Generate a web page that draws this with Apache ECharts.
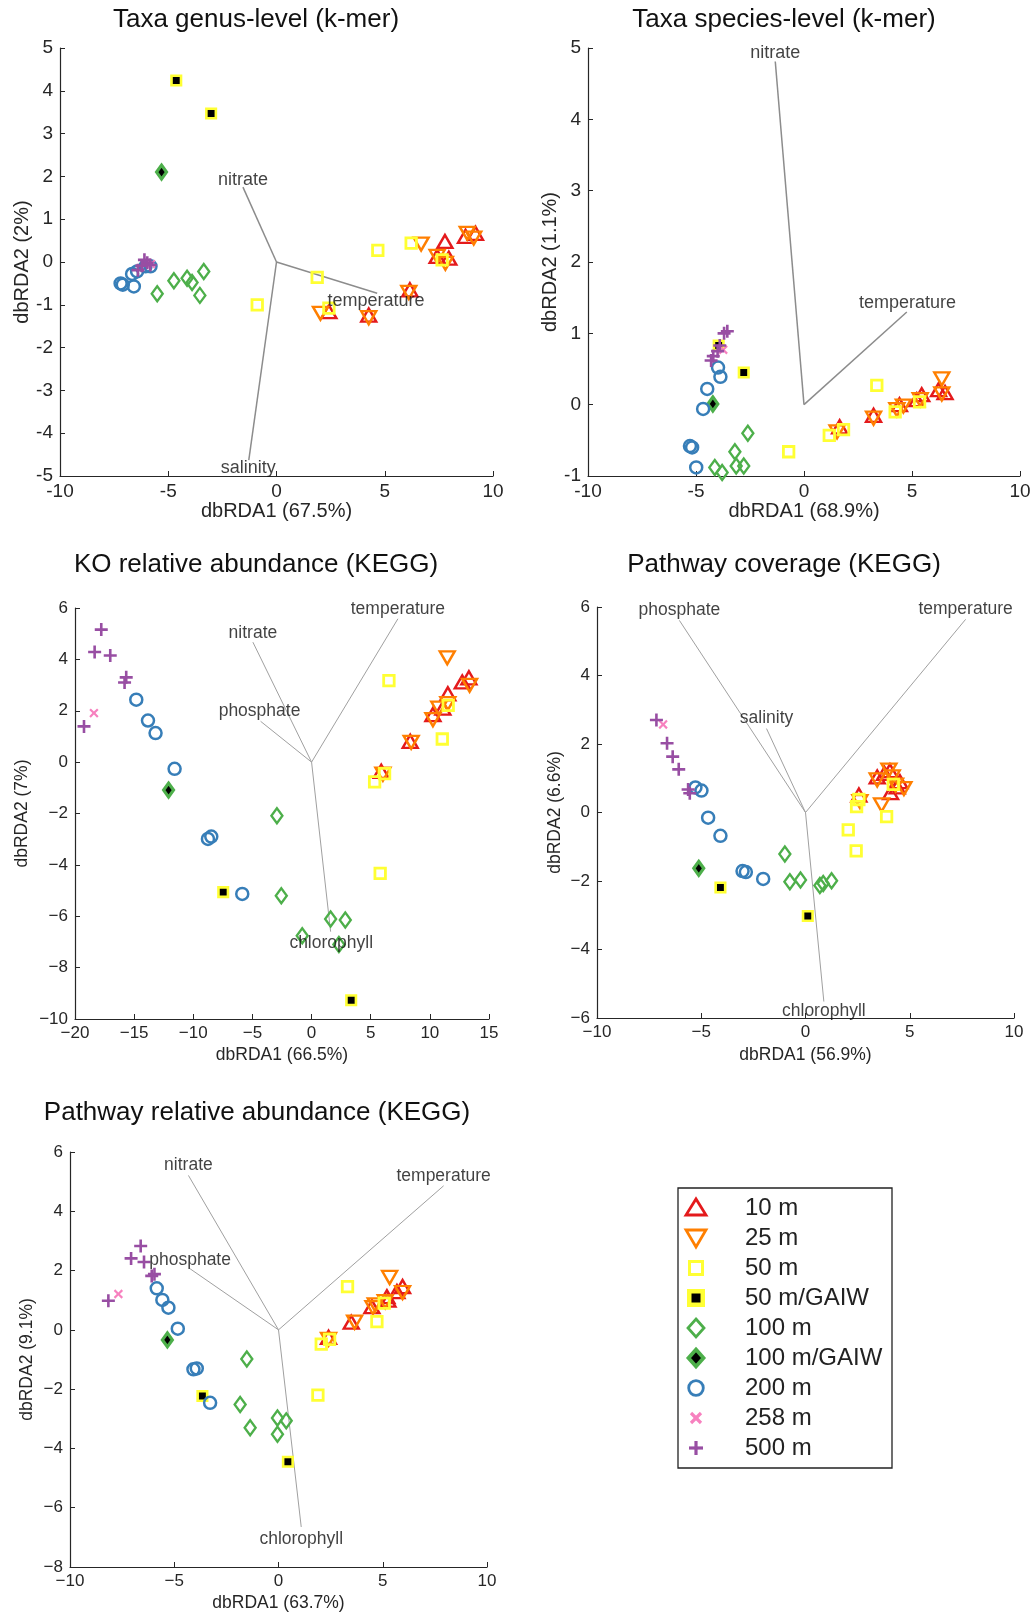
<!DOCTYPE html>
<html><head><meta charset="utf-8">
<script src="https://cdn.jsdelivr.net/npm/echarts@6/dist/echarts.min.js"></script>
<style>html,body{margin:0;padding:0;background:#fff}#c{width:1034px;height:1618px}</style>
</head><body><div id="c"></div><script>
// ---------------- DATA ----------------
const GROUPS = ['10 m','25 m','50 m','50 m/GAIW','100 m','100 m/GAIW','200 m','258 m','500 m'];
const TITLES = ['Taxa genus-level (k-mer)','Taxa species-level (k-mer)','KO relative abundance (KEGG)','Pathway coverage (KEGG)','Pathway relative abundance (KEGG)'];
const X_NAMES = ['dbRDA1 (67.5%)','dbRDA1 (68.9%)','dbRDA1 (66.5%)','dbRDA1 (56.9%)','dbRDA1 (63.7%)'];
const Y_NAMES = ['dbRDA2 (2%)','dbRDA2 (1.1%)','dbRDA2 (7%)','dbRDA2 (6.6%)','dbRDA2 (9.1%)'];
const X_RANGE = [[-10,10,5],[-10,10,5],[-20,15,5],[-10,10,5],[-10,10,5]];
const Y_RANGE = [[-5,5,1],[-1,5,1],[-10,6,2],[-6,6,2],[-8,6,2]];

// Taxa genus-level
const genus_10m = [[7.78,0.48],[2.42,-1.16],[4.26,-1.24],[6.16,-0.65],[7.96,0.09],[8.73,0.6],[9.19,0.67],[7.42,0.13]];
const genus_25m = [[6.68,0.42],[2.03,-1.2],[4.26,-1.3],[6.11,-0.71],[7.42,0.13],[7.8,-0.03],[8.81,0.67],[9.11,0.56]];
const genus_50m = [[-0.89,-1.0],[1.88,-0.36],[4.68,0.27],[6.22,0.44],[2.42,-1.08],[7.65,0.05]];
const genus_50mG = [[-4.63,4.24],[-3.02,3.47]];
const genus_100m = [[-5.51,-0.74],[-4.74,-0.44],[-4.13,-0.38],[-3.9,-0.48],[-3.36,-0.22],[-3.54,-0.78]];
const genus_100mG = [[-5.31,2.1]];
const genus_200m = [[-7.2,-0.5],[-7.1,-0.53],[-6.59,-0.57],[-6.67,-0.28],[-6.44,-0.22],[-6.05,-0.1],[-5.82,-0.1]];
const genus_258m = [[-5.8,-0.05]];
const genus_500m = [[-6.4,-0.19],[-6.22,-0.09],[-5.97,-0.02],[-5.83,-0.07],[-6.1,0.05]];
const genus_vecNames = ['nitrate','temperature','salinity'];
const genus_vecEnds = [[-1.55,1.75],[4.65,-0.73],[-1.28,-4.63]];
const genus_vecText = [[-1.55,1.92],[4.6,-0.91],[-1.31,-4.82]];

// Taxa species-level
const species_10m = [[1.65,-0.31],[3.22,-0.15],[4.42,0.0],[5.45,0.14],[6.23,0.21],[6.53,0.17],[5.22,0.07]];
const species_25m = [[1.53,-0.38],[3.22,-0.19],[4.6,-0.02],[4.3,-0.07],[6.38,0.36],[6.38,0.15],[5.38,0.07]];
const species_50m = [[-0.71,-0.66],[1.17,-0.43],[1.83,-0.35],[3.37,0.27],[4.22,-0.1],[5.35,0.04]];
const species_50mG = [[-2.79,0.45],[-3.95,0.83]];
const species_100m = [[-2.6,-0.4],[-3.2,-0.66],[-4.13,-0.88],[-3.79,-0.95],[-3.14,-0.86],[-2.79,-0.86]];
const species_100mG = [[-4.22,0.01]];
const species_200m = [[-3.98,0.52],[-3.87,0.39],[-4.48,0.22],[-4.67,-0.06],[-5.28,-0.58],[-5.18,-0.6],[-4.99,-0.88]];
const species_258m = [[-3.74,0.77]];
const species_500m = [[-3.55,1.03],[-3.7,1.0],[-3.9,0.83],[-4.0,0.75],[-4.2,0.68],[-4.3,0.62]];
const species_vecNames = ['nitrate','temperature'];
const species_vecEnds = [[-1.33,4.81],[4.76,1.3]];
const species_vecText = [[-1.33,4.93],[4.79,1.43]];

// KO relative abundance
const ko_10m = [[12.74,3.12],[13.3,3.28],[11.52,2.66],[10.26,1.85],[8.34,0.81],[5.89,-0.36],[11.1,2.1]];
const ko_25m = [[11.47,4.06],[13.36,2.99],[10.26,1.65],[10.76,2.1],[8.42,0.77],[6.03,-0.47],[11.52,2.28]];
const ko_50m = [[6.54,3.17],[5.33,-0.77],[6.17,-0.45],[11.05,0.9],[5.8,-4.33],[11.55,2.21]];
const ko_50mG = [[-7.47,-5.06],[3.35,-9.27]];
const ko_100m = [[-2.93,-2.09],[-2.56,-5.2],[-0.79,-6.76],[1.61,-6.11],[2.85,-6.15],[2.31,-7.1]];
const ko_100mG = [[-12.09,-1.09]];
const ko_200m = [[-14.82,2.43],[-13.83,1.62],[-13.19,1.13],[-11.58,-0.26],[-8.76,-2.99],[-8.48,-2.9],[-5.86,-5.13]];
const ko_258m = [[-18.4,1.91]];
const ko_500m = [[-17.78,5.16],[-18.34,4.29],[-17.02,4.15],[-15.67,3.3],[-15.81,3.1],[-19.24,1.39]];
const ko_vecNames = ['nitrate','temperature','phosphate','chlorophyll'];
const ko_vecEnds = [[-4.96,4.67],[7.3,5.58],[-4.31,1.59],[1.61,-6.6]];
const ko_vecText = [[-4.96,5.03],[7.3,5.97],[-4.4,1.98],[1.66,-7.06]];

// Pathway coverage
const pcov_10m = [[2.56,0.51],[3.44,1.04],[4.08,0.58],[4.53,0.9],[4.05,1.22],[4.4,0.75],[3.79,1.14]];
const pcov_25m = [[2.61,0.32],[3.65,0.22],[3.44,0.95],[4.0,1.24],[4.72,0.7],[4.32,0.8],[4.16,1.04]];
const pcov_50m = [[2.56,0.38],[2.45,0.17],[2.05,-0.51],[2.43,-1.12],[3.89,-0.12],[4.21,0.82]];
const pcov_50mG = [[-4.08,-2.19],[0.11,-3.02]];
const pcov_100m = [[-0.99,-1.21],[-0.75,-2.02],[-0.24,-1.97],[0.69,-2.13],[0.85,-2.07],[1.25,-1.99]];
const pcov_100mG = [[-5.12,-1.63]];
const pcov_200m = [[-5.28,0.73],[-4.99,0.64],[-4.67,-0.15],[-4.08,-0.68],[-3.02,-1.71],[-2.86,-1.74],[-2.03,-1.94]];
const pcov_258m = [[-6.83,2.57]];
const pcov_500m = [[-7.15,2.7],[-6.64,2.02],[-6.37,1.63],[-6.08,1.26],[-5.63,0.67],[-5.55,0.56]];
const pcov_vecNames = ['phosphate','temperature','salinity','chlorophyll'];
const pcov_vecEnds = [[-6.05,5.61],[7.68,5.64],[-1.87,2.45],[0.88,-5.52]];
const pcov_vecText = [[-6.05,5.9],[7.68,5.95],[-1.87,2.75],[0.88,-5.81]];

// Pathway relative abundance
const prel_10m = [[5.95,1.46],[5.68,1.29],[5.2,1.12],[4.48,0.78],[3.49,0.26],[2.4,-0.25],[5.25,1.0]];
const prel_25m = [[5.33,1.77],[5.95,1.26],[4.53,0.75],[3.65,0.26],[2.4,-0.32],[4.64,0.84],[5.12,0.95]];
const prel_50m = [[3.31,1.46],[4.72,0.28],[5.07,0.9],[2.05,-0.48],[2.45,-0.32],[1.89,-2.2]];
const prel_50mG = [[-3.65,-2.23],[0.45,-4.45]];
const prel_100m = [[-1.52,-0.98],[-1.84,-2.52],[-1.36,-3.3],[-0.05,-2.97],[0.37,-3.07],[-0.05,-3.52]];
const prel_100mG = [[-5.33,-0.34]];
const prel_200m = [[-5.84,1.4],[-5.57,1.01],[-5.28,0.75],[-4.83,0.04],[-4.08,-1.33],[-3.92,-1.3],[-3.28,-2.46]];
const prel_258m = [[-7.68,1.21]];
const prel_500m = [[-6.61,2.83],[-7.07,2.41],[-6.45,2.29],[-6.08,1.82],[-5.95,1.88],[-8.16,0.98]];
const prel_vecNames = ['nitrate','temperature','phosphate','chlorophyll'];
const prel_vecEnds = [[-4.32,5.21],[7.92,4.86],[-4.24,2.06],[1.09,-6.65]];
const prel_vecText = [[-4.32,5.54],[7.92,5.18],[-4.24,2.36],[1.09,-7.06]];

// ---------------- ASSEMBLY ----------------
const POINTS = [
  [genus_10m,genus_25m,genus_50m,genus_50mG,genus_100m,genus_100mG,genus_200m,genus_258m,genus_500m],
  [species_10m,species_25m,species_50m,species_50mG,species_100m,species_100mG,species_200m,species_258m,species_500m],
  [ko_10m,ko_25m,ko_50m,ko_50mG,ko_100m,ko_100mG,ko_200m,ko_258m,ko_500m],
  [pcov_10m,pcov_25m,pcov_50m,pcov_50mG,pcov_100m,pcov_100mG,pcov_200m,pcov_258m,pcov_500m],
  [prel_10m,prel_25m,prel_50m,prel_50mG,prel_100m,prel_100mG,prel_200m,prel_258m,prel_500m]
];
const VECTORS = [
  [genus_vecNames,genus_vecEnds,genus_vecText],
  [species_vecNames,species_vecEnds,species_vecText],
  [ko_vecNames,ko_vecEnds,ko_vecText],
  [pcov_vecNames,pcov_vecEnds,pcov_vecText],
  [prel_vecNames,prel_vecEnds,prel_vecText]
];

// layout / style
const FONT = '"Liberation Sans", Arial, Helvetica, sans-serif';
const INK = '#262626';
const LAYOUT = [
  {grid:{left:60,top:48,width:433,height:428}, tick:19, name:20, ann:18, xGap:22, yGap:28, uminus:false, vecColor:'#8c8c8c', vecW:1.5, tx:256, ty:20},
  {grid:{left:588,top:48,width:432,height:428}, tick:19, name:20, ann:18, xGap:22, yGap:28, uminus:false, vecColor:'#8c8c8c', vecW:1.5, tx:784, ty:20},
  {grid:{left:75,top:608,width:414,height:411}, tick:17, name:17.5, ann:17.5, xGap:27, yGap:44, uminus:true, vecColor:'#a0a0a0', vecW:1, tx:256, ty:565},
  {grid:{left:597,top:607,width:417,height:411}, tick:17, name:17.5, ann:17.5, xGap:28, yGap:33, uminus:true, vecColor:'#a0a0a0', vecW:1, tx:784, ty:565},
  {grid:{left:70,top:1152,width:417,height:415}, tick:17, name:17.5, ann:17.5, xGap:27, yGap:34, uminus:true, vecColor:'#a0a0a0', vecW:1, tx:257, ty:1113}
];
const PLUS = 'path://M4,0H6V4H10V6H6V10H4V6H0V4H4Z';
const T = 'rgba(0,0,0,0)';
const SYM = [
  {symbol:'triangle', size:[15,13], rotate:0, color:T, border:'#e41a1c', bw:2.4},
  {symbol:'triangle', size:[15,13], rotate:180, color:T, border:'#ff7f00', bw:2.4},
  {symbol:'rect', size:10.5, rotate:0, color:T, border:'#ffff33', bw:2.8},
  {symbol:'rect', size:9.5, rotate:0, color:'#000', border:'#ffff33', bw:2.6},
  {symbol:'diamond', size:[11,15], rotate:0, color:T, border:'#4daf4a', bw:2.4},
  {symbol:'diamond', size:[10,14], rotate:0, color:'#000', border:'#4daf4a', bw:3.2},
  {symbol:'circle', size:12, rotate:0, color:T, border:'#377eb8', bw:2.5},
  {symbol:PLUS, size:11, rotate:45, color:'#f781bf', border:T, bw:0},
  {symbol:PLUS, size:13, rotate:0, color:'#984ea3', border:T, bw:0}
];

const grids=[], xAxes=[], yAxes=[], series=[], graphics=[];
LAYOUT.forEach((L,i)=>{
  grids.push(Object.assign({containLabel:false}, L.grid));
  const fmt = v => L.uminus ? String(v).replace('-', '\u2212') : String(v);
  const mkAxis = (range, name, gap, isX) => ({
    gridIndex:i, type:'value', min:range[0], max:range[1], interval:range[2],
    name:name, nameLocation:'middle', nameGap:gap,
    nameTextStyle:{fontSize:L.name, color:INK, fontFamily:FONT},
    axisLine:{show:true, onZero:false, lineStyle:{color:INK, width:1.2}},
    axisTick:{show:true, inside:true, length:5, lineStyle:{color:INK, width:1}},
    axisLabel:{show:true, fontSize:L.tick, color:INK, fontFamily:FONT, margin:isX?6:7, formatter:fmt, showMinLabel:true, showMaxLabel:true},
    splitLine:{show:false}
  });
  xAxes.push(mkAxis(X_RANGE[i], X_NAMES[i], L.xGap, true));
  yAxes.push(mkAxis(Y_RANGE[i], Y_NAMES[i], L.yGap, false));

  const [vn, ve, vt] = VECTORS[i];
  ve.forEach((e,k)=>{
    series.push({type:'line', xAxisIndex:i, yAxisIndex:i, data:[[0,0],e], showSymbol:false, symbol:'none',
      lineStyle:{color:L.vecColor, width:L.vecW}, silent:true, z:1, animation:false});
  });
  POINTS[i].forEach((pts,g)=>{
    const s = SYM[g];
    series.push({type:'scatter', name:GROUPS[g], xAxisIndex:i, yAxisIndex:i, data:pts,
      symbol:s.symbol, symbolSize:s.size, symbolRotate:s.rotate, symbolKeepAspect:true,
      itemStyle:{color:s.color, borderColor:s.border, borderWidth:s.bw, opacity:1},
      emphasis:{disabled:true}, silent:true, z:2, animation:false, clip:false});
  });
  series.push({type:'scatter', xAxisIndex:i, yAxisIndex:i,
    data: vn.map((n,k)=>({name:n, value:vt[k]})),
    symbolSize:1, itemStyle:{color:T},
    label:{show:true, position:'inside', formatter:'{b}', color:'#111', fontSize:L.ann, fontFamily:FONT},
    emphasis:{disabled:true}, silent:true, z:3, animation:false, clip:false});
  graphics.push({type:'text', x:L.tx, y:L.ty, z:10,
    style:{text:TITLES[i], fill:'#111', font:'26px '+FONT, textAlign:'center', textVerticalAlign:'middle', align:'center', verticalAlign:'middle'}});
});

// legend (drawn as graphic)
const LEG = {x:678, y:1188, w:214, h:280, row0:1208, step:30, iconX:696, textX:745};
graphics.push({type:'rect', shape:{x:LEG.x, y:LEG.y, width:LEG.w, height:LEG.h}, style:{fill:'none', stroke:'#222', lineWidth:1.3}, z:5});
function legendIcon(g){
  const s = SYM[g];
  const st = (fill, lw) => ({fill:fill, stroke:s.border, lineWidth:lw});
  switch(g){
    case 0: return [{type:'polygon', shape:{points:[[-10,7],[10,7],[0,-9]]}, style:st('none',2.8)}];
    case 1: return [{type:'polygon', shape:{points:[[-10,-8],[10,-8],[0,9]]}, style:st('none',2.8)}];
    case 2: return [{type:'rect', shape:{x:-6.5,y:-6.5,width:13,height:13}, style:st('none',3)}];
    case 3: return [{type:'rect', shape:{x:-6.75,y:-6.75,width:13.5,height:13.5}, style:st('#000',4.5)}];
    case 4: return [{type:'polygon', shape:{points:[[0,-9],[8,0],[0,9],[-8,0]]}, style:st('none',2.8)}];
    case 5: return [{type:'polygon', shape:{points:[[0,-8.5],[7.5,0],[0,8.5],[-7.5,0]]}, style:st('#000',3.8)}];
    case 6: return [{type:'circle', shape:{cx:0,cy:0,r:7.3}, style:st('none',2.8)}];
    case 7: return [
      {type:'line', shape:{x1:-5,y1:-5,x2:5,y2:5}, style:{stroke:s.color, lineWidth:3.2}},
      {type:'line', shape:{x1:-5,y1:5,x2:5,y2:-5}, style:{stroke:s.color, lineWidth:3.2}}];
    default: return [
      {type:'line', shape:{x1:-7,y1:0,x2:7,y2:0}, style:{stroke:s.color, lineWidth:3.2}},
      {type:'line', shape:{x1:0,y1:-7,x2:0,y2:7}, style:{stroke:s.color, lineWidth:3.2}}];
  }
}
GROUPS.forEach((name,g)=>{
  const y = LEG.row0 + g*LEG.step;
  const kids = legendIcon(g).map(el => Object.assign(el, {z:20}));
  graphics.push({type:'group', x:LEG.iconX, y:y, children:kids});
  graphics.push({type:'text', x:LEG.textX, y:y, z:20,
    style:{text:name, fill:'#222', font:'24px '+FONT, textAlign:'left', textVerticalAlign:'middle', align:'left', verticalAlign:'middle'}});
});

const chart = echarts.init(document.getElementById('c'), null, {renderer:'canvas'});
chart.setOption({
  backgroundColor:'#fff', animation:false,
  grid:grids, xAxis:xAxes, yAxis:yAxes, series:series, graphic:graphics
});
</script></body></html>
